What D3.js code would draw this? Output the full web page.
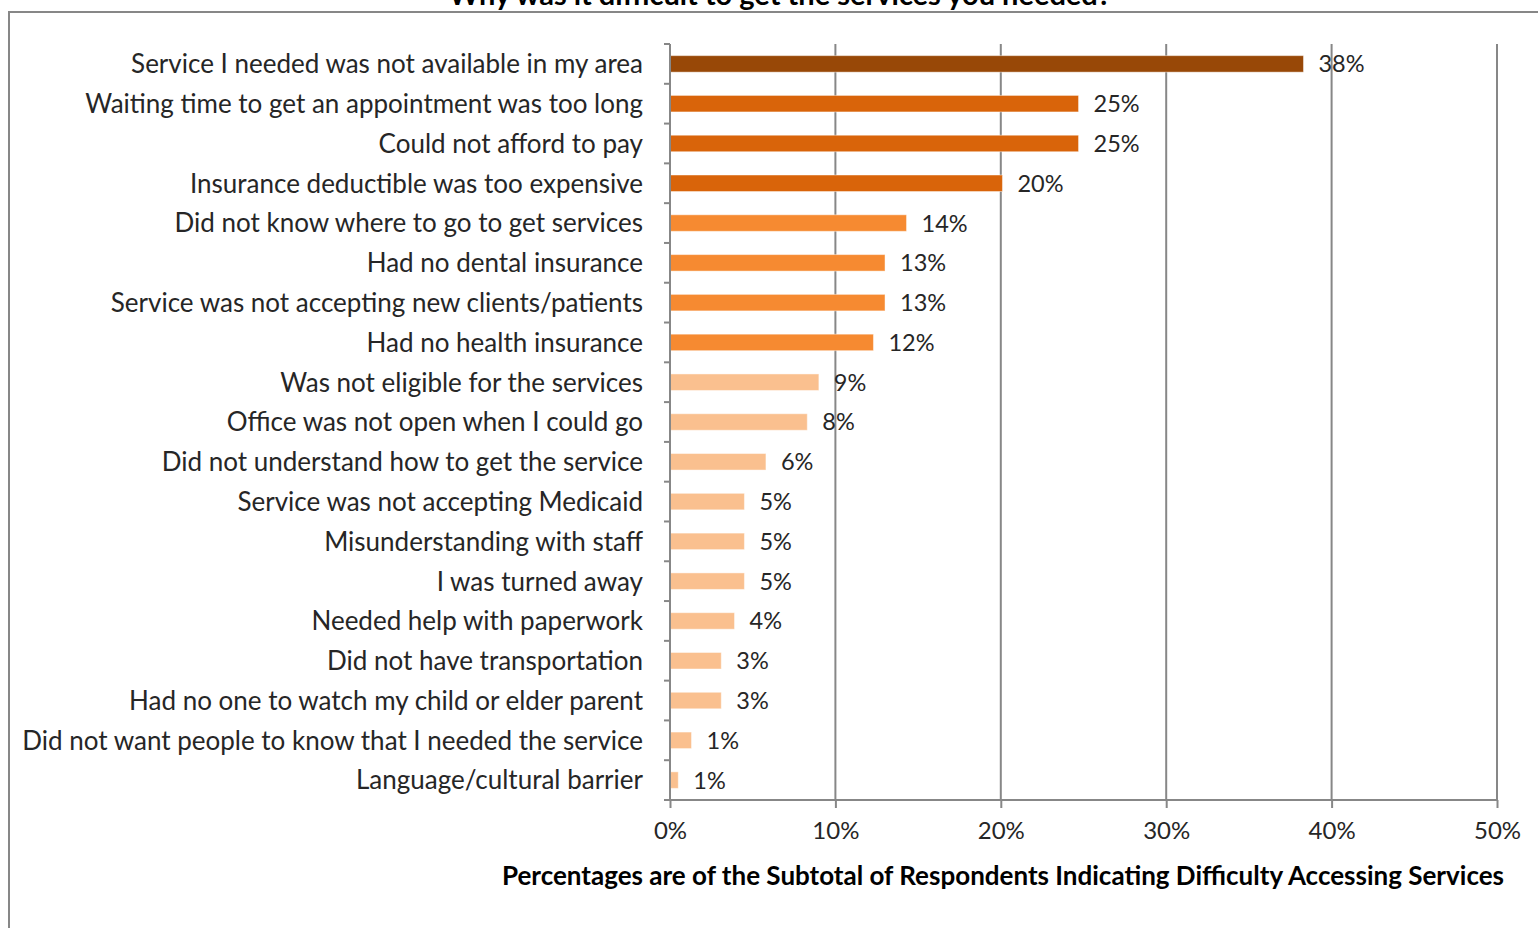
<!DOCTYPE html>
<html>
<head>
<meta charset="utf-8">
<script src="https://cdn.jsdelivr.net/npm/d3@7"></script>
<style>
  body { margin: 0; background: #ffffff; }
  #chart { width: 1538px; height: 928px; }
</style>
</head>
<body>
<div id="chart"></div>
<script>
const categories = [
  "Service I needed was not available in my area",
  "Waiting time to get an appointment was too long",
  "Could not afford to pay",
  "Insurance deductible was too expensive",
  "Did not know where to go to get services",
  "Had no dental insurance",
  "Service was not accepting new clients/patients",
  "Had no health insurance",
  "Was not eligible for the services",
  "Office was not open when I could go",
  "Did not understand how to get the service",
  "Service was not accepting Medicaid",
  "Misunderstanding with staff",
  "I was turned away",
  "Needed help with paperwork",
  "Did not have transportation",
  "Had no one to watch my child or elder parent",
  "Did not want people to know that I needed the service",
  "Language/cultural barrier"
];

const values = [38.3, 24.7, 24.7, 20.1, 14.3, 13.0, 13.0, 12.3, 9.0, 8.3, 5.8, 4.5, 4.5, 4.5, 3.9, 3.1, 3.1, 1.3, 0.5];
const valueLabels = ["38%", "25%", "25%", "20%", "14%", "13%", "13%", "12%", "9%", "8%", "6%", "5%", "5%", "5%", "4%", "3%", "3%", "1%", "1%"];
// colour group of each bar (0 = darkest)
const groups = [0, 1, 1, 1, 2, 2, 2, 2, 3, 3, 3, 3, 3, 3, 3, 3, 3, 3, 3];
const groupColors = ["#984807", "#D9640A", "#F68A31", "#FAC08F"];
const xTicks = [0, 10, 20, 30, 40, 50];

const title = "Why was it difficult to get the services you needed?";
const xTitle = "Percentages are of the Subtotal of Respondents Indicating Difficulty Accessing Services";

const width = 1538;
const height = 928;
const margin = { top: 44, right: 41, bottom: 128, left: 670 };
const textColor = "#262626";
const gridColor = "#878787";
const font = "Lato, 'Open Sans', sans-serif";

const svg = d3.select("#chart")
  .append("svg")
  .attr("width", width)
  .attr("height", height)
  .style("font-family", font);

// outer frame (top and left edges are visible in the picture)
svg.append("path")
  .attr("d", `M9,${height} V12 H${width}`)
  .attr("fill", "none")
  .attr("stroke", gridColor)
  .attr("stroke-width", 2);

// the title sits mostly above the top edge, as in the source picture
svg.append("text")
  .attr("x", 780)
  .attr("y", 5)
  .attr("text-anchor", "middle")
  .attr("fill", "#000")
  .attr("font-size", 29)
  .attr("font-weight", 700)
  .text(title);

const x = d3.scaleLinear()
  .domain([0, 50])
  .range([margin.left, width - margin.right]);

const y = d3.scaleBand()
  .domain(categories)
  .range([margin.top, height - margin.bottom])
  .paddingInner(0.585)
  .paddingOuter(0.2925);

const plotBottom = height - margin.bottom;

// vertical grid lines
svg.append("g")
  .selectAll("line")
  .data(xTicks.slice(1))
  .join("line")
  .attr("x1", (d) => x(d))
  .attr("x2", (d) => x(d))
  .attr("y1", margin.top)
  .attr("y2", plotBottom)
  .attr("stroke", gridColor)
  .attr("stroke-width", 2);

// bars
svg.append("g")
  .selectAll("rect")
  .data(values)
  .join("rect")
  .attr("x", x(0))
  .attr("y", (d, i) => y(categories[i]))
  .attr("width", (d) => x(d) - x(0))
  .attr("height", y.bandwidth())
  .attr("fill", (d, i) => groupColors[groups[i]])
  .attr("stroke", "rgba(255,255,255,0.45)")
  .attr("stroke-width", 1);

// value labels
svg.append("g")
  .selectAll("text")
  .data(values)
  .join("text")
  .attr("x", (d) => x(d) + 15)
  .attr("y", (d, i) => y(categories[i]) + y.bandwidth() / 2)
  .attr("dy", "0.36em")
  .attr("fill", textColor)
  .attr("font-size", 23.5)
  .text((d, i) => valueLabels[i]);

// y axis: line, ticks at category boundaries, labels
const step = y.step();
const boundaries = d3.range(categories.length + 1).map((i) => margin.top + i * step);

svg.append("line")
  .attr("x1", x(0))
  .attr("x2", x(0))
  .attr("y1", margin.top)
  .attr("y2", plotBottom)
  .attr("stroke", gridColor)
  .attr("stroke-width", 2);

svg.append("g")
  .selectAll("line")
  .data(boundaries)
  .join("line")
  .attr("x1", x(0) - 6)
  .attr("x2", x(0))
  .attr("y1", (d) => d)
  .attr("y2", (d) => d)
  .attr("stroke", gridColor)
  .attr("stroke-width", 2);

svg.append("g")
  .selectAll("text")
  .data(categories)
  .join("text")
  .attr("x", x(0) - 27)
  .attr("y", (d) => y(d) + y.bandwidth() / 2)
  .attr("dy", "0.36em")
  .attr("text-anchor", "end")
  .attr("fill", textColor)
  .attr("font-size", 26)
  .text((d) => d);

// x axis
const xAxis = svg.append("g")
  .attr("transform", `translate(0,${plotBottom})`)
  .call(d3.axisBottom(x).tickValues(xTicks).tickSize(8).tickPadding(14).tickFormat((d) => d + "%"));

xAxis.select(".domain")
  .attr("stroke", gridColor)
  .attr("stroke-width", 2)
  .attr("d", `M${x(0)},0H${x(50)}`);

xAxis.selectAll(".tick line")
  .attr("stroke", gridColor)
  .attr("stroke-width", 2);

xAxis.selectAll(".tick text")
  .attr("fill", textColor)
  .attr("font-size", 24)
  .attr("font-family", font);

svg.append("text")
  .attr("x", 1003)
  .attr("y", 885)
  .attr("text-anchor", "middle")
  .attr("fill", "#000")
  .attr("font-size", 26)
  .attr("font-weight", 700)
  .text(xTitle);
</script>
</body>
</html>
